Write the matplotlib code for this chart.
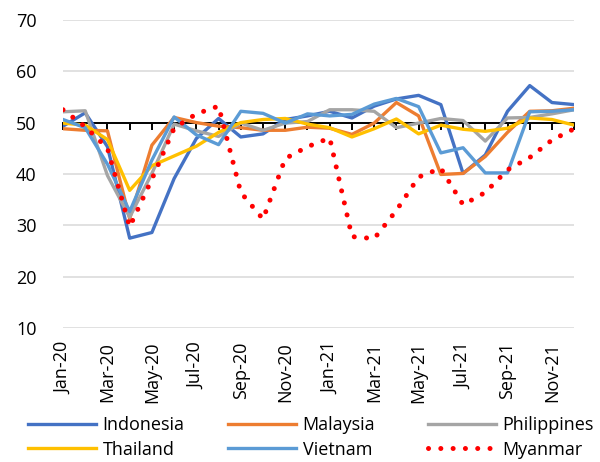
import matplotlib.pyplot as plt
from matplotlib.ticker import MultipleLocator, FixedLocator

plt.rcParams['font.family'] = ['Open Sans', 'DejaVu Sans']

# monthly PMI, Jan-20 .. Dec-21
months = ['Jan-20', 'Feb-20', 'Mar-20', 'Apr-20', 'May-20', 'Jun-20',
          'Jul-20', 'Aug-20', 'Sep-20', 'Oct-20', 'Nov-20', 'Dec-20',
          'Jan-21', 'Feb-21', 'Mar-21', 'Apr-21', 'May-21', 'Jun-21',
          'Jul-21', 'Aug-21', 'Sep-21', 'Oct-21', 'Nov-21', 'Dec-21']

indonesia = [49.3, 51.9, 45.3, 27.5, 28.6, 39.1, 46.9, 50.8, 47.2, 47.8, 50.6, 51.3,
             52.2, 50.9, 53.2, 54.6, 55.3, 53.5, 40.1, 43.7, 52.2, 57.2, 53.9, 53.5]
malaysia = [48.8, 48.5, 48.4, 31.3, 45.6, 51.0, 50.0, 49.3, 49.0, 48.5, 48.5, 49.1,
            48.9, 47.7, 49.9, 53.9, 51.3, 39.9, 40.1, 43.4, 48.1, 52.2, 52.3, 52.8]
philippines = [52.1, 52.3, 39.7, 31.6, 40.1, 49.7, 48.4, 47.3, 49.9, 48.5, 49.9, 50.2,
               52.5, 52.5, 52.2, 49.0, 49.9, 50.8, 50.4, 46.4, 50.9, 51.0, 51.7, 52.5]
thailand = [49.9, 49.5, 46.7, 36.8, 41.6, 43.5, 45.4, 48.1, 50.0, 50.6, 50.8, 49.7,
            49.0, 47.2, 48.8, 50.7, 47.8, 49.5, 48.7, 48.3, 48.9, 50.9, 50.6, 49.5]
vietnam = [50.6, 49.0, 41.9, 32.7, 42.7, 51.1, 47.6, 45.7, 52.2, 51.8, 49.9, 51.7,
           51.3, 51.6, 53.6, 54.7, 53.1, 44.1, 45.1, 40.2, 40.2, 52.1, 52.2, 52.5]
myanmar = [52.5, 49.2, 45.0, 29.7, 39.0, 48.9, 51.7, 53.2, 36.4, 31.2, 43.0, 45.3,
           47.0, 27.8, 27.4, 32.9, 39.4, 41.1, 34.0, 36.4, 40.8, 43.2, 46.6, 48.8]

x = list(range(len(months)))

fig = plt.figure(figsize=(6, 4.62), dpi=100)
ax = fig.add_axes([0.105, 0.29, 0.852, 0.667])

lw = 2.4
l_ind, = ax.plot(x, indonesia, color='#4472C4', lw=lw, zorder=3, solid_joinstyle='round')
l_mal, = ax.plot(x, malaysia, color='#ED7D31', lw=lw, zorder=3, solid_joinstyle='round')
l_phi, = ax.plot(x, philippines, color='#A5A5A5', lw=lw, zorder=3, solid_joinstyle='round')
l_tha, = ax.plot(x, thailand, color='#FFC000', lw=lw, zorder=3, solid_joinstyle='round')
l_vie, = ax.plot(x, vietnam, color='#5B9BD5', lw=lw, zorder=3, solid_joinstyle='round')
l_mya, = ax.plot(x, myanmar, color='#FF0000', lw=3.6, zorder=3,
                 linestyle=(0, (0.01, 2.45)), dash_capstyle='round')

ax.set_xlim(0, 23)
ax.set_ylim(10, 70)
ax.yaxis.set_major_locator(MultipleLocator(10))
ax.grid(axis='y', color='#D9D9D9', lw=1.1, zorder=0)
ax.set_axisbelow(True)

for s in ['left', 'right', 'top']:
    ax.spines[s].set_visible(False)
# category axis crosses at 50
ax.spines['bottom'].set_position(('data', 50))
ax.spines['bottom'].set_color('black')
ax.spines['bottom'].set_linewidth(1.4)
ax.spines['bottom'].set_zorder(2)
ax.xaxis.set_major_locator(FixedLocator(x))
ax.tick_params(axis='x', length=5, width=1.4, color='black', labelbottom=False)
ax.tick_params(axis='y', length=0, pad=19, labelsize=13)

sec = ax.secondary_xaxis(0)
sec.set_xticks(x[::2], months[::2], rotation=90)
sec.tick_params(length=0, pad=10, labelsize=13)
sec.spines['bottom'].set_visible(False)

# legend: three evenly spaced columns, two rows
cols = [([l_ind, l_tha], ['Indonesia', 'Thailand']),
        ([l_mal, l_vie], ['Malaysia', 'Vietnam']),
        ([l_phi, l_mya], ['Philippines', 'Myanmar'])]
for k, (h, lab) in enumerate(cols):
    fig.legend(h, lab, loc='upper left', bbox_to_anchor=(0.046 + k * 0.3333, 0.099),
               frameon=False, fontsize=13, handlelength=3.8, handletextpad=0.35,
               borderaxespad=0, borderpad=0, labelspacing=0.36)

fig.savefig('out.png', dpi=100)
